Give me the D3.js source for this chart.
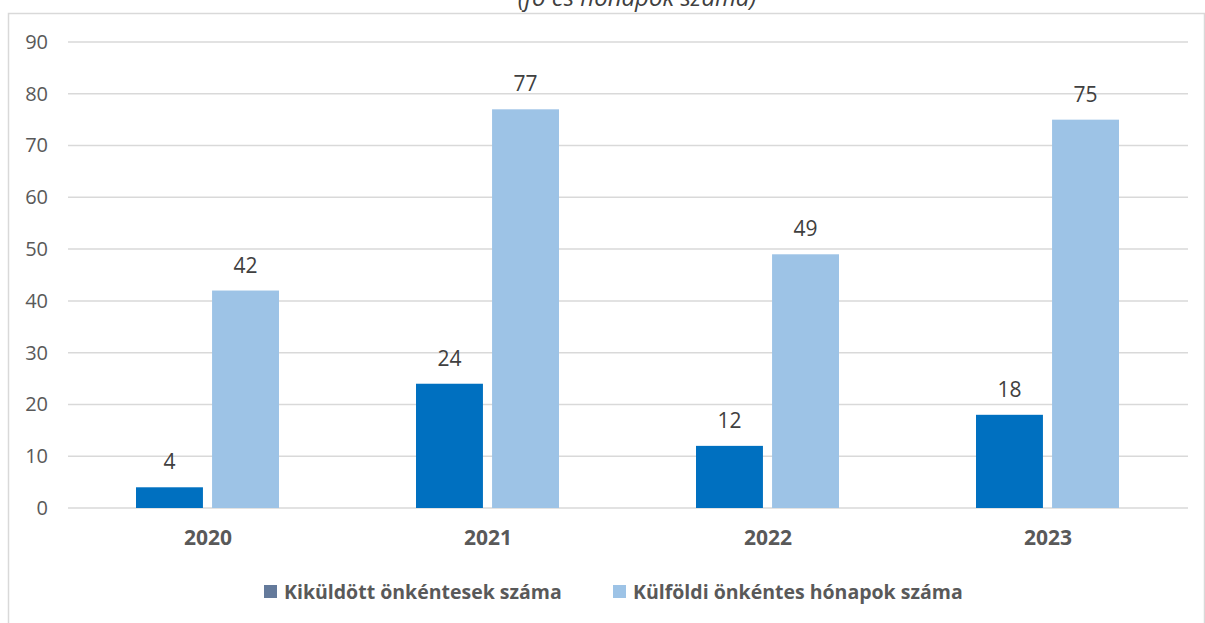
<!DOCTYPE html>
<html><head><meta charset="utf-8">
<script src="https://cdn.jsdelivr.net/npm/d3@7"></script>
<style>body{margin:0;background:#fff}svg{display:block}</style>
</head><body>
<svg id="c" width="1205" height="623"></svg>
<script>
const categories = ["2020","2021","2022","2023"];
const seriesNames = ["Kiküldött önkéntesek száma","Külföldi önkéntes hónapok száma"];
const volunteers = [4,24,12,18];
const months = [42,77,49,75];
const yTicks = [0,10,20,30,40,50,60,70,80,90];
const title = "(fő és hónapok száma)";

const svg = d3.select("#c");
const font = "'Open Sans', sans-serif";
const plotLeft = 68, plotRight = 1188, plotTop = 42, plotBottom = 508;

svg.append("rect").attr("x",8.5).attr("y",13.5).attr("width",1196).attr("height",640)
  .attr("fill","#fff").attr("stroke","#d9d9d9").attr("stroke-width",1.5);

svg.append("text").attr("x",637).attr("y",6).attr("text-anchor","middle")
  .attr("font-family",font).attr("font-style","italic").attr("font-size",24)
  .attr("fill","#404040").text(title);

const x = d3.scaleBand().domain(categories).range([plotLeft,plotRight]).paddingInner(0).paddingOuter(0);
const y = d3.scaleLinear().domain([0,90]).range([plotBottom,plotTop]);
const x1 = d3.scaleBand().domain([0,1]).range([68,211]).paddingInner(0.12);

svg.append("g").selectAll("line").data(yTicks).join("line")
  .attr("x1",plotLeft).attr("x2",plotRight).attr("y1",d=>y(d)).attr("y2",d=>y(d))
  .attr("stroke","#d9d9d9").attr("stroke-width",1.5);

const yAxis = d3.axisLeft(y).tickValues(yTicks).tickSize(0).tickPadding(20);
const ga = svg.append("g").attr("transform",`translate(${plotLeft},0)`).call(yAxis);
ga.select(".domain").remove();
ga.selectAll("text").attr("font-family",font).attr("font-size",20).attr("fill","#595959");

const xAxis = d3.axisBottom(x).tickSize(0).tickPadding(22);
const gx = svg.append("g").attr("transform",`translate(0,${plotBottom})`).call(xAxis);
gx.select(".domain").remove();
gx.selectAll("text").attr("font-family",font).attr("font-size",21).attr("font-weight","bold").attr("fill","#595959");

const colors = ["#0070c0","#9dc3e6"];
const data = [volunteers, months];
data.forEach((vals,si)=>{
  const g = svg.append("g");
  g.selectAll("rect").data(vals).join("rect")
    .attr("x",(d,i)=>x(categories[i]) + x1(si))
    .attr("width",x1.bandwidth())
    .attr("y",d=>y(d)).attr("height",d=>plotBottom - y(d))
    .attr("fill",colors[si]);
  g.selectAll("text").data(vals).join("text")
    .attr("x",(d,i)=>x(categories[i]) + x1(si) + x1.bandwidth()/2)
    .attr("y",d=>y(d)-18)
    .attr("text-anchor","middle")
    .attr("font-family",font).attr("font-size",21).attr("fill","#404040")
    .text(d=>d);
});

const legendSw = ["#647a9b","#9dc3e6"];
const legendX = [264,613];
seriesNames.forEach((n,i)=>{
  svg.append("rect").attr("x",legendX[i]).attr("y",585).attr("width",13).attr("height",13).attr("fill",legendSw[i]);
  svg.append("text").attr("x",legendX[i]+20).attr("y",599)
    .attr("font-family",font).attr("font-size",19.5).attr("font-weight","bold").attr("fill","#595959").text(n);
});
</script>
</body></html>
